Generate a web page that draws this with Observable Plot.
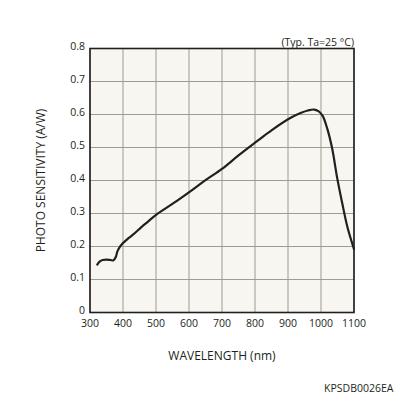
<!DOCTYPE html>
<html><head><meta charset="utf-8">
<script src="https://cdn.jsdelivr.net/npm/d3@7"></script>
<script src="https://cdn.jsdelivr.net/npm/@observablehq/plot@0.6"></script>
<style>body{margin:0;background:#fff}</style>
</head><body><div id="chart"></div>
<script>
const wavelength = [322, 330, 338, 350, 362, 371, 378, 383, 390, 398, 415, 433, 455, 474, 504, 554, 605, 650, 701, 750, 802, 850, 908, 940, 960, 979, 992, 1005, 1019, 1034, 1049, 1065, 1080, 1100];
const sensitivity = [0.145, 0.155, 0.159, 0.160, 0.159, 0.158, 0.168, 0.185, 0.198, 0.208, 0.224, 0.238, 0.258, 0.274, 0.299, 0.332, 0.368, 0.401, 0.436, 0.476, 0.516, 0.552, 0.590, 0.605, 0.612, 0.615, 0.610, 0.596, 0.557, 0.496, 0.408, 0.328, 0.259, 0.192];
const xTicks = [300, 400, 500, 600, 700, 800, 900, 1000, 1100];
const yTicks = [0, 0.1, 0.2, 0.3, 0.4, 0.5, 0.6, 0.7, 0.8];
const conditionText = "(Typ. Ta=25 °C)";
const xLabel = "WAVELENGTH (nm)";
const yLabel = "PHOTO SENSITIVITY (A/W)";
const codeText = "KPSDB0026EA";

const data = wavelength.map((w, i) => ({w, s: sensitivity[i]}));
const ink = "#231f20";
const yFmt = d => d === 0 ? "0" : d3.format(".1f")(d);

const chart = Plot.plot({
  width: 396,
  height: 396,
  marginLeft: 89.5,
  marginRight: 42.5,
  marginTop: 48,
  marginBottom: 84,
  style: {fontFamily: "'Open Sans', sans-serif", fontSize: "11px", color: ink, background: "#fff"},
  x: {domain: [300, 1100], label: null},
  y: {domain: [0, 0.8], label: null},
  marks: [
    Plot.frame({fill: "#f7f6f0", stroke: null}),
    Plot.gridX(xTicks, {stroke: "#9e9a94", strokeOpacity: 1, strokeWidth: 1}),
    Plot.gridY(yTicks, {stroke: "#9e9a94", strokeOpacity: 1, strokeWidth: 1}),
    Plot.line(data, {x: "w", y: "s", curve: "catmull-rom", stroke: ink, strokeWidth: 2.2}),
    Plot.frame({stroke: ink, strokeWidth: 1.6}),
    Plot.axisX({ticks: xTicks, tickSize: 0, tickPadding: 7, label: null, fontSize: 10.5, tickFormat: d3.format("d")}),
    Plot.axisY({ticks: yTicks, tickSize: 0, tickPadding: 5, label: null, fontSize: 10.5, tickFormat: yFmt, dy: -2}),
    Plot.text([conditionText], {frameAnchor: "top-right", text: d => d, textAnchor: "end", lineAnchor: "bottom", dy: -3, fontSize: 10.5, fill: ink}),
    Plot.text([yLabel], {frameAnchor: "left", text: d => d, textAnchor: "middle", rotate: -90, dx: -49, fontSize: 12, fill: ink}),
    Plot.text([xLabel], {frameAnchor: "bottom", text: d => d, textAnchor: "middle", dy: 47, fontSize: 12, fill: ink}),
    Plot.text([codeText], {frameAnchor: "bottom-right", text: d => d, textAnchor: "end", dx: 39.5, dy: 79, fontSize: 10.5, fill: ink})
  ]
});
document.getElementById("chart").appendChild(chart);
</script>
</body></html>
